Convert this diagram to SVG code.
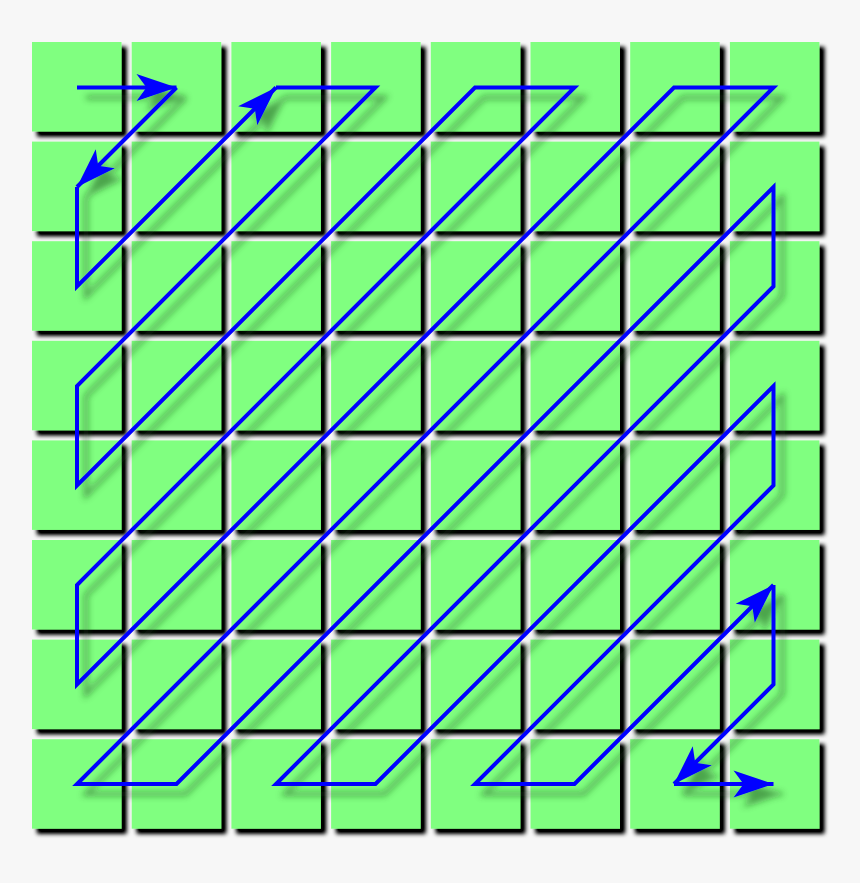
<svg xmlns="http://www.w3.org/2000/svg" xmlns:xlink="http://www.w3.org/1999/xlink" width="860" height="883" viewBox="0 0 860 883">
<style>
.sq{fill:#80ff80}
.ln{fill:none;stroke:#0000ff;stroke-width:4;stroke-linejoin:miter;stroke-linecap:butt}
</style>
<defs>
<filter id="sqsh" x="-10%" y="-10%" width="130%" height="130%">
<feGaussianBlur in="SourceAlpha" stdDeviation="2.3" result="b"/>
<feOffset in="b" dx="5" dy="5" result="o"/>
<feComponentTransfer in="o" result="d"><feFuncA type="linear" slope="1.2"/></feComponentTransfer>
<feMerge><feMergeNode in="d"/><feMergeNode in="SourceGraphic"/></feMerge>
</filter>
<filter id="lnsh" x="-10%" y="-10%" width="130%" height="130%">
<feGaussianBlur in="SourceAlpha" stdDeviation="3" result="b"/>
<feOffset in="b" dx="9" dy="10" result="o"/>
<feFlood flood-color="#1a4a1a" flood-opacity="0.5"/>
<feComposite in2="o" operator="in" result="s"/>
<feMerge><feMergeNode in="s"/><feMergeNode in="SourceGraphic"/></feMerge>
</filter>
<marker id="ah" markerUnits="userSpaceOnUse" viewBox="-41 -15 43 30" refX="0" refY="0" markerWidth="43" markerHeight="30" orient="auto" overflow="visible">
<path d="M0,0 L-40,-13.5 L-30,0 L-40,13.5 Z" fill="#0000ff"/>
</marker>
<rect id="s" width="89.5" height="89.5" class="sq"/>
</defs>
<rect width="860" height="883" fill="#f7f7f7"/>
<g id="grid" filter="url(#sqsh)">
<g id="row0">
<use xlink:href="#s" x="32" y="42"/><use xlink:href="#s" x="131.7" y="42"/><use xlink:href="#s" x="231.4" y="42"/><use xlink:href="#s" x="331.1" y="42"/><use xlink:href="#s" x="430.8" y="42"/><use xlink:href="#s" x="530.5" y="42"/><use xlink:href="#s" x="630.2" y="42"/><use xlink:href="#s" x="729.9" y="42"/>
</g>
<g id="row1">
<use xlink:href="#s" x="32" y="141.6"/><use xlink:href="#s" x="131.7" y="141.6"/><use xlink:href="#s" x="231.4" y="141.6"/><use xlink:href="#s" x="331.1" y="141.6"/><use xlink:href="#s" x="430.8" y="141.6"/><use xlink:href="#s" x="530.5" y="141.6"/><use xlink:href="#s" x="630.2" y="141.6"/><use xlink:href="#s" x="729.9" y="141.6"/>
</g>
<g id="row2">
<use xlink:href="#s" x="32" y="241.2"/><use xlink:href="#s" x="131.7" y="241.2"/><use xlink:href="#s" x="231.4" y="241.2"/><use xlink:href="#s" x="331.1" y="241.2"/><use xlink:href="#s" x="430.8" y="241.2"/><use xlink:href="#s" x="530.5" y="241.2"/><use xlink:href="#s" x="630.2" y="241.2"/><use xlink:href="#s" x="729.9" y="241.2"/>
</g>
<g id="row3">
<use xlink:href="#s" x="32" y="340.8"/><use xlink:href="#s" x="131.7" y="340.8"/><use xlink:href="#s" x="231.4" y="340.8"/><use xlink:href="#s" x="331.1" y="340.8"/><use xlink:href="#s" x="430.8" y="340.8"/><use xlink:href="#s" x="530.5" y="340.8"/><use xlink:href="#s" x="630.2" y="340.8"/><use xlink:href="#s" x="729.9" y="340.8"/>
</g>
<g id="row4">
<use xlink:href="#s" x="32" y="440.4"/><use xlink:href="#s" x="131.7" y="440.4"/><use xlink:href="#s" x="231.4" y="440.4"/><use xlink:href="#s" x="331.1" y="440.4"/><use xlink:href="#s" x="430.8" y="440.4"/><use xlink:href="#s" x="530.5" y="440.4"/><use xlink:href="#s" x="630.2" y="440.4"/><use xlink:href="#s" x="729.9" y="440.4"/>
</g>
<g id="row5">
<use xlink:href="#s" x="32" y="540"/><use xlink:href="#s" x="131.7" y="540"/><use xlink:href="#s" x="231.4" y="540"/><use xlink:href="#s" x="331.1" y="540"/><use xlink:href="#s" x="430.8" y="540"/><use xlink:href="#s" x="530.5" y="540"/><use xlink:href="#s" x="630.2" y="540"/><use xlink:href="#s" x="729.9" y="540"/>
</g>
<g id="row6">
<use xlink:href="#s" x="32" y="639.6"/><use xlink:href="#s" x="131.7" y="639.6"/><use xlink:href="#s" x="231.4" y="639.6"/><use xlink:href="#s" x="331.1" y="639.6"/><use xlink:href="#s" x="430.8" y="639.6"/><use xlink:href="#s" x="530.5" y="639.6"/><use xlink:href="#s" x="630.2" y="639.6"/><use xlink:href="#s" x="729.9" y="639.6"/>
</g>
<g id="row7">
<use xlink:href="#s" x="32" y="739.2"/><use xlink:href="#s" x="131.7" y="739.2"/><use xlink:href="#s" x="231.4" y="739.2"/><use xlink:href="#s" x="331.1" y="739.2"/><use xlink:href="#s" x="430.8" y="739.2"/><use xlink:href="#s" x="530.5" y="739.2"/><use xlink:href="#s" x="630.2" y="739.2"/><use xlink:href="#s" x="729.9" y="739.2"/>
</g>
</g>
<g id="connectors" filter="url(#lnsh)">
<path class="ln" marker-end="url(#ah)" d="M77,87.5 L176.5,87.5"/>
<path class="ln" marker-end="url(#ah)" d="M176.5,87.5 L77,187"/>
<path class="ln" marker-end="url(#ah)" d="M77,187 L77,286.5 L276,87.5"/>
<path class="ln" marker-end="url(#ah)" d="M276,87.5 L375.5,87.5 L77,386 L77,485.5 L475,87.5 L574.5,87.5 L77,585 L77,684.5 L674,87.5 L773.5,87.5 L77,784 L176.5,784 L773.5,187 L773.5,286.5 L276,784 L375.5,784 L773.5,386 L773.5,485.5 L475,784 L574.5,784 L773.5,585"/>
<path class="ln" marker-end="url(#ah)" d="M773.5,585 L773.5,684.5 L674,784"/>
<path class="ln" marker-end="url(#ah)" d="M674,784 L773.5,784"/>
</g>
</svg>
